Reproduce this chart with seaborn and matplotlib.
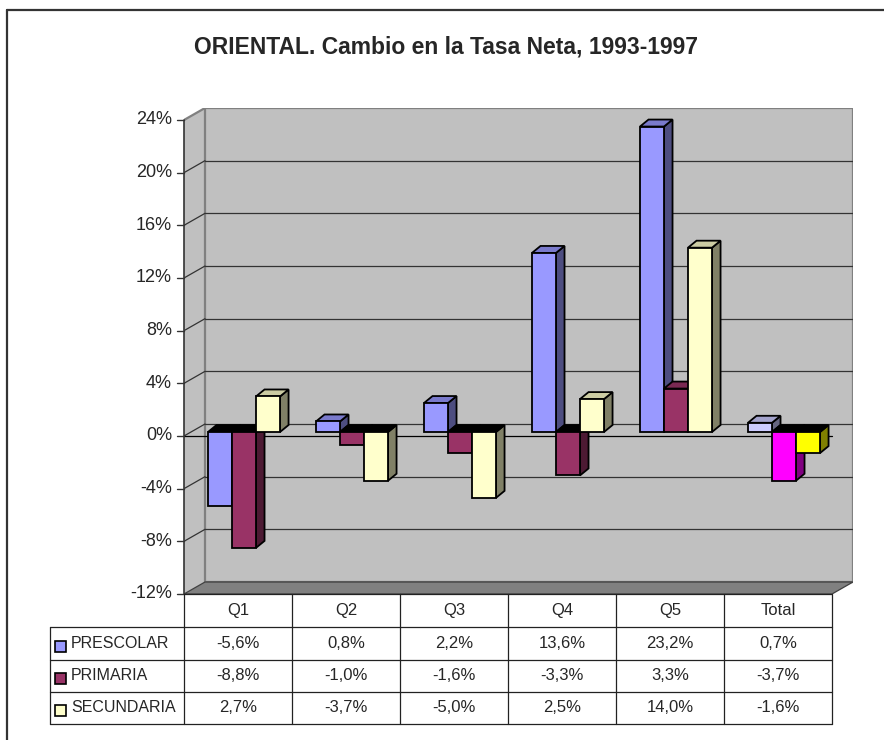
import matplotlib
matplotlib.use("Agg")
import matplotlib.pyplot as plt
import matplotlib.transforms as mtransforms
from matplotlib.colors import to_rgb
from matplotlib.patches import Polygon, Rectangle
from matplotlib.lines import Line2D
import numpy as np
import pandas as pd
import seaborn as sns

# datos
categorias = ["Q1", "Q2", "Q3", "Q4", "Q5", "Total"]
series = ["PRESCOLAR", "PRIMARIA", "SECUNDARIA"]
prescolar = [-5.6, 0.8, 2.2, 13.6, 23.2, 0.7]
primaria = [-8.8, -1.0, -1.6, -3.3, 3.3, -3.7]
secundaria = [2.7, -3.7, -5.0, 2.5, 14.0, -1.6]
y_ticks = [-12, -8, -4, 0, 4, 8, 12, 16, 20, 24]
titulo = "ORIENTAL. Cambio en la Tasa Neta, 1993-1997"

colores = ["#9999ff", "#993366", "#ffffcc"]
colores_total = ["#ccccff", "#ff00ff", "#ffff00"]

df = pd.DataFrame({
    "categoria": categorias * 3,
    "serie": np.repeat(series, len(categorias)),
    "valor": prescolar + primaria + secundaria,
})

sns.set_style("white")
plt.rcParams["font.family"] = ["Liberation Sans", "DejaVu Sans"]

W, H = 884, 740
fig = plt.figure(figsize=(W / 100, H / 100), dpi=100)


def fx(px):
    return px / W


def fy(py):
    return 1 - py / H


# profundidad de las paredes (unidades de datos)
DX = 21 / 108
DY = 12 / (474 / 36)

ax = fig.add_axes([fx(184), fy(594), fx(853) - fx(184), fy(108) - fy(594)])

sns.barplot(data=df, x="categoria", y="valor", hue="serie", order=categorias,
            hue_order=series, palette=colores, width=0.667, saturation=1,
            edgecolor="black", linewidth=1.3, errorbar=None, legend=False, ax=ax)

ax.set_xlim(-0.5, 5.5 + DX)
ax.set_ylim(-12, 24 + DY)
ax.set_axis_off()

gris = "#c0c0c0"
x_izq, x_der = -0.5, len(categorias) - 0.5
# pared izquierda y pared del fondo
ax.add_patch(Polygon([(x_izq, -12), (x_izq, 24), (x_izq + DX, 24 + DY), (x_izq + DX, -12 + DY)],
                     closed=True, fc=gris, ec="none", zorder=0.5))
ax.add_patch(Rectangle((x_izq + DX, -12 + DY), x_der - x_izq, 36, fc=gris, ec="#808080",
                       lw=1.6, zorder=0.6))
for t in y_ticks[1:-1]:
    ax.plot([x_izq + DX, x_der + DX], [t + DY, t + DY], color="#333333", lw=0.9, zorder=1)
    ax.plot([x_izq, x_izq + DX], [t, t + DY], color="#333333", lw=0.9, zorder=1)
ax.plot([x_izq, x_izq + DX], [24, 24 + DY], color="#808080", lw=1.6, zorder=1)
# piso
ax.add_patch(Polygon([(x_izq, -12), (x_der, -12), (x_der + DX, -12 + DY), (x_izq + DX, -12 + DY)],
                     closed=True, fc="#808080", ec="#404040", lw=0.9, zorder=1.5))
# eje frontal
ax.plot([x_izq, x_izq], [-12, 24], color="#333333", lw=1.2, zorder=2, clip_on=False)
ax.plot([x_izq, x_der], [0, 0], color="black", lw=0.9, zorder=2)
for t in y_ticks:
    ax.plot([x_izq - 7 / 108, x_izq], [t, t], color="#333333", lw=1, clip_on=False)
    ax.text(x_izq - 12 / 108, t, f"{t}%", ha="right", va="center", fontsize=13)

# barras en 3D
shift = ax.transData + mtransforms.ScaledTranslation(6 / 100, 4 / 100, fig.dpi_scale_trans)
bx, by = 0.079, 0.53
for h, cont in enumerate(ax.containers):
    for bar in cont:
        x0, w = bar.get_x(), bar.get_width()
        y0, hgt = bar.get_y(), bar.get_height()
        c = int(round(x0 + w / 2))
        if categorias[c] == "Total":
            bar.set_facecolor(colores_total[h])
        frente = np.array(to_rgb(bar.get_facecolor()))
        sup = max(y0, y0 + hgt)
        inf = min(y0, y0 + hgt)
        bar.set_transform(shift)
        bar.set_zorder(4 + h)
        ax.add_patch(Polygon([(x0 + w, inf), (x0 + w + bx, inf + by), (x0 + w + bx, sup + by), (x0 + w, sup)],
                             closed=True, fc=frente * 0.5, ec="black", lw=1.3,
                             transform=shift, zorder=3.5 + h))
        cara = frente * 0.8 if hgt > 0 else "black"
        ax.add_patch(Polygon([(x0, sup), (x0 + bx, sup + by), (x0 + w + bx, sup + by), (x0 + w, sup)],
                             closed=True, fc=cara, ec="black", lw=1.3,
                             transform=shift, zorder=3.5 + h))

# tabla de datos
col_x = [184 + 108 * k for k in range(len(categorias) + 1)]
fila_y = [594, 627, 660, 692, 724]
lc = "#222222"


def linea(xa, xb, ya, yb, color=lc, lw=0.9):
    fig.add_artist(Line2D([fx(xa), fx(xb)], [fy(ya), fy(yb)], color=color, lw=lw))


for xc in col_x:
    linea(xc, xc, fila_y[0], fila_y[-1])
linea(50, 50, fila_y[1], fila_y[-1])
for yr in fila_y[1:]:
    linea(50, col_x[-1], yr, yr)
linea(col_x[0], col_x[-1], fila_y[0], fila_y[0])

fs_tabla = 12
for k, cat in enumerate(categorias):
    fig.text(fx(col_x[k] + 54), fy((fila_y[0] + fila_y[1]) / 2), cat,
             ha="center", va="center", fontsize=fs_tabla)

valores = [prescolar, primaria, secundaria]
for i, nombre in enumerate(series):
    yc = (fila_y[i + 1] + fila_y[i + 2]) / 2
    fig.add_artist(Rectangle((fx(55), fy(yc + 8)), 11 / W, 11 / H, transform=fig.transFigure,
                             fc=colores[i], ec="black", lw=1.2))
    fig.text(fx(71), fy(yc), nombre, ha="left", va="center", fontsize=11.5)
    for k, v in enumerate(valores[i]):
        fig.text(fx(col_x[k] + 54), fy(yc), f"{v:.1f}".replace(".", ",") + "%",
                 ha="center", va="center", fontsize=fs_tabla)

fig.text(fx(446), fy(47), titulo, ha="center", va="center", fontsize=16.5, fontweight="bold")

# marco exterior
linea(7, W, 10, 10, color="#333333", lw=1.6)
linea(7, 7, 10, H, color="#333333", lw=1.6)

fig.savefig("out.png", dpi=100)
